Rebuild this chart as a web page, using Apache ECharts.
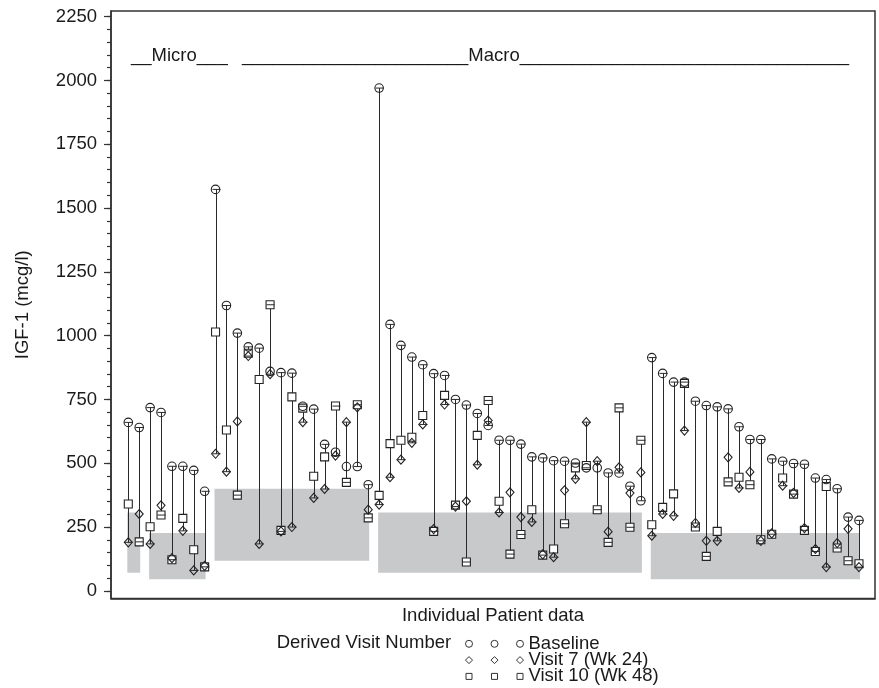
<!DOCTYPE html>
<html><head><meta charset="utf-8">
<script src="https://cdn.jsdelivr.net/npm/echarts@6/dist/echarts.min.js"></script>
<style>html,body{margin:0;padding:0;background:#fff}#c{width:879px;height:688px}</style>
</head><body><div id="c"></div>
<script>
// ---- data ----
const baseline = [660,640,718,699,488,488,472,390,1573,1118,1010,956,951,860,855,853,723,712,574,543,487,487,416,
  1970,1044,962,916,886,851,844,750,728,695,648,590,590,575,525,521,510,508,501,482,482,462,462,410,353,
  914,852,818,818,743,726,721,713,643,593,593,517,508,499,496,442,436,400,289,276];
const visit7 = [190,301,184,335,128,235,80,98,537,467,664,920,184,849,233,250,661,364,399,530,661,719,318,
  338,445,514,580,652,242,730,330,351,494,667,307,386,289,270,143,132,394,439,661,508,232,484,383,464,
  216,301,294,628,266,196,196,523,403,466,196,225,412,384,246,164,93,187,243,93];
const visit10 = [340,192,251,297,122,284,161,94,1014,630,375,931,828,1121,237,760,716,449,525,724,425,729,286,
  374,577,590,602,687,233,766,336,113,609,746,351,144,221,318,140,164,263,482,491,318,190,717,249,590,
  259,327,380,813,250,135,233,427,445,416,200,222,442,379,237,154,409,168,118,106];
const patientIds = baseline.map((_, i) => i + 1);

// normal-range bands: first / last patient covered, low / high value
const rangeFirst = [1, 3, 9, 24, 49];
const rangeLast  = [2, 8, 23, 48, 68];
const rangeLow   = [71, 45, 118, 71, 45];
const rangeHigh  = [307, 227, 400, 307, 227];

const yTickValues = [0, 250, 500, 750, 1000, 1250, 1500, 1750, 2000, 2250];
const seriesNames = ['Baseline', 'Visit 7 (Wk 24)', 'Visit 10 (Wk 48)'];
const groupLabels = ['__Micro___', '______________________Macro________________________________'];
const legendTitle = 'Derived Visit Number';

// ---- chart ----
const FONT = '"Liberation Sans", Arial, Helvetica, sans-serif';
const FS = 18.5;
const INK = '#1a1a1a';
const minorTicks = [];
for (let v = 0; v <= 2250; v += 50) minorTicks.push(v);

const rangeData = rangeFirst.map((f, i) => [f, rangeLast[i], rangeLow[i], rangeHigh[i]]);
const hiloData = patientIds.map((id, i) => [id, baseline[i], visit7[i], visit10[i]]);

function crisp(x) { return Math.round(x) + 0.5; }
const LINE = '#2a2a2a';

const chart = echarts.init(document.getElementById('c'), null, { renderer: 'canvas' });
chart.setOption({
  animation: false,
  backgroundColor: '#fff',
  textStyle: { fontFamily: FONT },
  grid: { left: 111, right: 4, top: 11, bottom: 89.5, show: true, borderColor: '#333', borderWidth: 1.5, backgroundColor: 'transparent' },
  xAxis: {
    type: 'value', min: -0.586, max: 69.47,
    axisLine: { show: true, onZero: false, lineStyle: { color: '#333', width: 1.5 } },
    axisTick: { show: false }, axisLabel: { show: false }, splitLine: { show: false },
    name: 'Individual Patient data', nameLocation: 'middle', nameGap: 8,
    nameTextStyle: { fontSize: FS, color: INK, fontFamily: FONT }
  },
  yAxis: [{
    type: 'value', min: -30, max: 2272, position: 'left',
    axisLine: { show: true, onZero: false, lineStyle: { color: '#333', width: 1.5 } },
    axisTick: { show: true, customValues: yTickValues, length: 7, lineStyle: { color: '#333', width: 1.2 } },
    axisLabel: { customValues: yTickValues, margin: 14, fontSize: FS, color: INK, fontFamily: FONT,
                 formatter: function (v) { return String(v); } },
    splitLine: { show: false },
    name: 'IGF-1 (mcg/l)', nameLocation: 'middle', nameGap: 79,
    nameTextStyle: { fontSize: FS, color: INK, fontFamily: FONT }
  }, {
    type: 'value', min: -30, max: 2272, position: 'left',
    axisLine: { show: false, onZero: false },
    axisTick: { show: true, customValues: minorTicks, length: 4, lineStyle: { color: '#333', width: 1.2 } },
    axisLabel: { show: false }, splitLine: { show: false }
  }],
  legend: {
    orient: 'vertical', left: 465, top: 634.3, height: 120, padding: 0, itemGap: -2.7,
    itemWidth: 58, itemHeight: 7, selectedMode: false,
    textStyle: { fontSize: FS, color: INK, fontFamily: FONT },
    itemStyle: { color: 'transparent', borderColor: '#333', borderWidth: 1 },
    data: [
      { name: seriesNames[0], icon: 'path://M0,3.5a3.5,3.5 0 1,0 7,0a3.5,3.5 0 1,0 -7,0Z M25.5,3.5a3.5,3.5 0 1,0 7,0a3.5,3.5 0 1,0 -7,0Z M51,3.5a3.5,3.5 0 1,0 7,0a3.5,3.5 0 1,0 -7,0Z' },
      { name: seriesNames[1], icon: 'path://M3.5,0L7,3.5L3.5,7L0,3.5Z M29,0L32.5,3.5L29,7L25.5,3.5Z M54.5,0L58,3.5L54.5,7L51,3.5Z' },
      { name: seriesNames[2], icon: 'path://M0.5,0.5H6.5V6.5H0.5Z M26,0.5H32V6.5H26Z M51.5,0.5H57.5V6.5H51.5Z M0,0H0.01V0.01H0Z M57.99,6.99H58V7H57.99Z' }
    ]
  },
  graphic: [
    { type: 'text', x: 131, y: 56, silent: true,
      style: { text: groupLabels[0], font: FS + 'px ' + FONT, fill: INK, textAlign: 'left', textVerticalAlign: 'middle' } },
    { type: 'text', x: 242, y: 56, silent: true,
      style: { text: groupLabels[1], font: FS + 'px ' + FONT, fill: INK, textAlign: 'left', textVerticalAlign: 'middle' } },
    { type: 'text', x: 276.7, y: 643.3, silent: true,
      style: { text: legendTitle, font: FS + 'px ' + FONT, fill: INK, textAlign: 'left', textVerticalAlign: 'middle' } }
  ],
  series: [
    {
      type: 'custom', name: 'ranges', z: 1, silent: true,
      data: rangeData, encode: { x: [0, 1], y: [2, 3] },
      renderItem: function (params, api) {
        const p0 = api.coord([api.value(0), api.value(3)]);
        const p1 = api.coord([api.value(1), api.value(2)]);
        return { type: 'rect', shape: { x: p0[0] - 1, y: p0[1], width: p1[0] - p0[0] + 2, height: p1[1] - p0[1] },
                 style: { fill: '#c8c9cb' } };
      }
    },
    {
      type: 'custom', name: 'hilo', z: 2, silent: true,
      data: hiloData, encode: { x: 0, y: [1, 2, 3] },
      renderItem: function (params, api) {
        const vals = [api.value(1), api.value(2), api.value(3)];
        const hi = Math.max.apply(null, vals), lo = Math.min.apply(null, vals);
        const pt = api.coord([api.value(0), hi]);
        const pb = api.coord([api.value(0), lo]);
        const x = crisp(pt[0]);
        return { type: 'line', shape: { x1: x, y1: pt[1], x2: x, y2: pb[1] },
                 style: { stroke: LINE, lineWidth: 1 } };
      }
    },
    {
      type: 'custom', name: 'caps', z: 4, silent: true,
      data: hiloData, encode: { x: 0, y: [1, 2, 3] },
      renderItem: function (params, api) {
        const vals = [api.value(1), api.value(2), api.value(3)];
        const hi = Math.max.apply(null, vals), lo = Math.min.apply(null, vals);
        const pt = api.coord([api.value(0), hi]);
        const pb = api.coord([api.value(0), lo]);
        const x = crisp(pt[0]);
        return { type: 'group', children: [
          { type: 'line', shape: { x1: x - 4, y1: pt[1], x2: x + 4, y2: pt[1] }, style: { stroke: LINE, lineWidth: 1 } },
          { type: 'line', shape: { x1: x - 4, y1: pb[1], x2: x + 4, y2: pb[1] }, style: { stroke: LINE, lineWidth: 1 } }
        ] };
      }
    },
    {
      type: 'scatter', name: seriesNames[2], z: 3, symbol: 'rect', symbolSize: 8,
      data: patientIds.map((id, i) => [id, visit10[i]]),
      itemStyle: { color: '#fff', borderColor: '#222', borderWidth: 1.1, opacity: 1 }
    },
    {
      type: 'scatter', name: seriesNames[0], z: 5, symbol: 'circle', symbolSize: 8.5,
      data: patientIds.map((id, i) => [id, baseline[i]]),
      itemStyle: { color: 'transparent', borderColor: '#222', borderWidth: 1.1, opacity: 1 }
    },
    {
      type: 'scatter', name: seriesNames[1], z: 5, symbol: 'diamond', symbolSize: [8, 9],
      data: patientIds.map((id, i) => [id, visit7[i]]),
      itemStyle: { color: 'transparent', borderColor: '#222', borderWidth: 1.1, opacity: 1 }
    }
  ]
});
</script>
</body></html>
